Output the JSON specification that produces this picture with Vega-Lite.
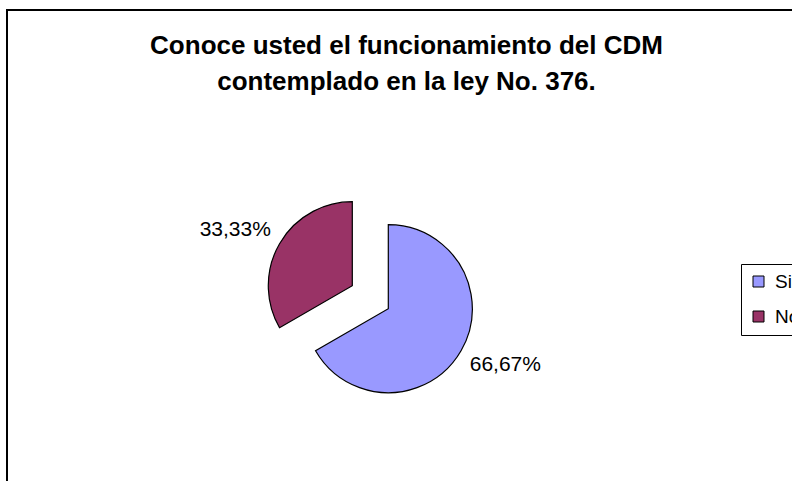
{
  "$schema": "https://vega.github.io/schema/vega-lite/v6.json",
  "width": 795,
  "height": 480,
  "autosize": {"type": "none"},
  "padding": {"left": 7, "top": 10, "right": -10, "bottom": -9},
  "background": "white",
  "view": {"stroke": "black", "strokeWidth": 2, "fill": "white"},
  "config": {
    "view": {"stroke": "black", "strokeWidth": 2},
    "font": "Liberation Sans",
    "locale": {
      "number": {"decimal": ",", "thousands": ".", "grouping": [3], "currency": ["", " €"]}
    }
  },
  "title": {
    "text": ["Conoce usted el funcionamiento del CDM", "contemplado en la ley No. 376."],
    "font": "Liberation Sans",
    "fontSize": 26,
    "fontWeight": "bold",
    "color": "black",
    "lineHeight": 36,
    "anchor": "middle",
    "orient": "top",
    "offset": -85,
    "dx": 2
  },
  "data": {
    "values": [
      {"cat": "Si", "value": 0.6667},
      {"cat": "No", "value": 0.3333}
    ]
  },
  "transform": [
    {"stack": "value", "groupby": [], "as": ["v0", "v1"], "sort": [{"field": "cat", "order": "descending"}]}
  ],
  "layer": [
    {
      "transform": [{"filter": "datum.cat === 'Si'"}],
      "mark": {"type": "arc", "stroke": "black", "strokeWidth": 1.2, "radius": 84, "xOffset": -16.2, "yOffset": 58.7},
      "encoding": {
        "theta": {"field": "v0", "type": "quantitative", "scale": {"domain": [0, 1]}},
        "theta2": {"field": "v1"},
        "color": {
          "field": "cat", "type": "nominal",
          "scale": {"domain": ["Si", "No"], "range": ["#9999FF", "#993366"]},
          "legend": {
            "title": null, "orient": "none", "legendX": 734, "legendY": 254,
            "symbolType": "square", "symbolSize": 121, "symbolStrokeColor": "black", "symbolStrokeWidth": 1,
            "labelFont": "Liberation Sans", "labelFontSize": 19, "labelColor": "black",
            "labelOffset": 7, "rowPadding": 15, "padding": 8,
            "strokeColor": "black", "fillColor": "white"
          }
        }
      }
    },
    {
      "transform": [{"filter": "datum.cat === 'No'"}],
      "mark": {"type": "arc", "stroke": "black", "strokeWidth": 1.2, "radius": 84, "xOffset": -52.2, "yOffset": 35.7},
      "encoding": {
        "theta": {"field": "v0", "type": "quantitative", "scale": {"domain": [0, 1]}},
        "theta2": {"field": "v1"},
        "color": {"field": "cat", "type": "nominal"}
      }
    },
    {
      "mark": {"type": "text", "radius": 151, "thetaOffset": -0.06, "xOffset": -34.2, "yOffset": 47.2, "font": "Liberation Sans", "fontSize": 21, "color": "black", "align": "center", "baseline": "middle"},
      "encoding": {
        "theta": {"field": "value", "type": "quantitative", "stack": true},
        "order": {"field": "cat", "sort": "descending"},
        "detail": {"field": "cat"},
        "text": {"field": "value", "type": "quantitative", "format": ".2%"}
      }
    }
  ]
}
